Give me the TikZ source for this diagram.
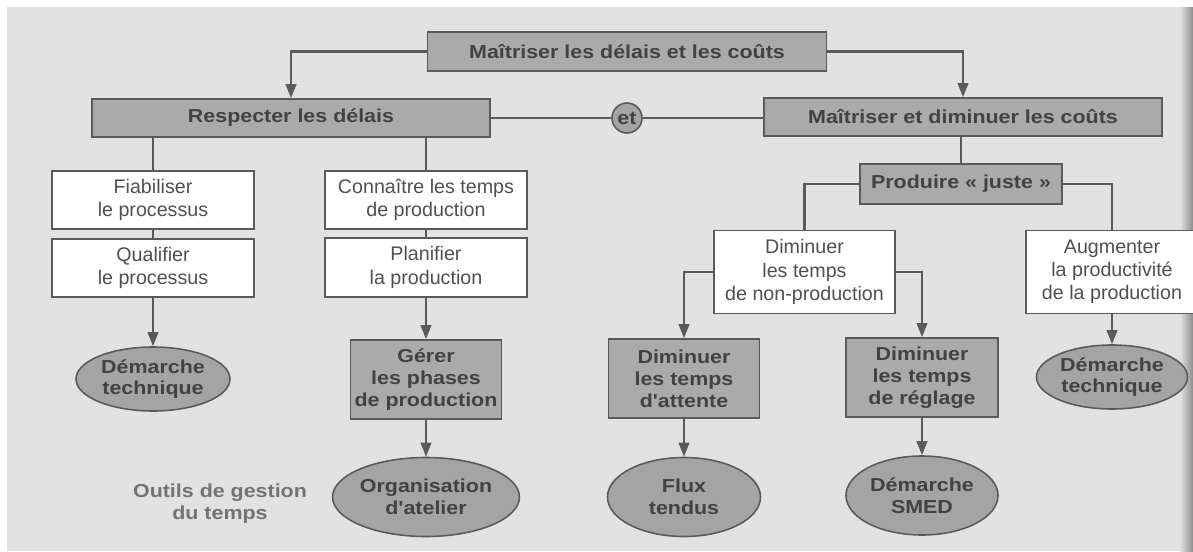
\documentclass[tikz,border=0pt]{standalone}
\usepackage{fontspec}
\setmainfont{Liberation Sans}
\newfontfamily\widefont{Liberation Sans}[FakeStretch=1.14]
\usetikzlibrary{arrows.meta,shapes.geometric}
\definecolor{bgc}{HTML}{E2E2E2}
\definecolor{boxg}{HTML}{AAAAAA}
\definecolor{linec}{HTML}{5A5A5A}
\definecolor{txtd}{HTML}{424242}
\definecolor{txtr}{HTML}{505050}
\definecolor{ellg}{HTML}{A4A4A4}
\begin{document}
\begin{tikzpicture}[x=0.02cm,y=-0.02cm,
  wh/.style 2 args={minimum width=#1*0.02cm, minimum height=#2*0.02cm},
  boldtxt/.style={font=\widefont\bfseries\fontsize{10.7pt}{12.4pt}\selectfont, text=txtd},
  greybox/.style={draw=linec, line width=0.9pt, fill=boxg, rectangle, inner sep=0pt, align=center, boldtxt},
  whitebox/.style={draw=linec, line width=0.9pt, fill=white, rectangle, inner sep=0pt, align=center, text=txtr, font=\fontsize{11.2pt}{13.2pt}\selectfont},
  oval/.style={draw=linec, line width=0.9pt, fill=ellg, ellipse, inner sep=0pt, align=center, boldtxt},
  link/.style={draw=linec, line width=1.3pt},
  arr/.style={link, -{Triangle[length=8pt,width=6pt]}},
]
\useasboundingbox (0,0) rectangle (1193,551);
\fill[white] (0,0) rectangle (1193,551);
\fill[bgc] (7,7) rectangle (1193,551);
\shade[left color=bgc, right color=black!45] (1180,7) rectangle (1193,551);

% nodes
\node[greybox, wh={399}{39}] (top) at (627,51.5) {Maîtriser les délais et les coûts};
\node[greybox, wh={398}{38}] (resp) at (291,118) {Respecter les délais};
\node[greybox, wh={398}{38}] (cost) at (963,117) {Maîtriser et diminuer les coûts};
\node[circle, draw=linec, line width=0.9pt, fill=ellg, inner sep=0pt, minimum size=30*0.02cm, boldtxt] (et) at (627,118) {et};

\node[whitebox, wh={202}{58}] (fiab) at (153,200) {Fiabiliser\\le processus};
\node[whitebox, wh={202}{58}] (qual) at (153,268) {Qualifier\\le processus};
\node[oval, wh={154}{64}] (demL) at (153,379) {Démarche\\technique};

\node[whitebox, wh={202}{58}] (conn) at (426,200) {Connaître les temps\\de production};
\node[whitebox, wh={202}{59}] (plan) at (426,267.5) {Planifier\\la production};
\node[greybox, wh={151}{79}] (gerer) at (426,379.5) {Gérer\\les phases\\de production};
\node[oval, wh={152}{79}] (orga) at (426,497) {Organisation\\d'atelier};

\node[greybox, wh={202}{40}] (prod) at (961,184) {Produire « juste »};
\node[whitebox, wh={181}{83}] (dimi) at (804.5,272) {Diminuer\\les temps\\de non-production};
\node[whitebox, wh={172}{83}] (aug) at (1112,272) {Augmenter\\la productivité\\de la production};

\node[greybox, wh={151}{79}] (att) at (684,378.5) {Diminuer\\les temps\\d'attente};
\node[greybox, wh={152}{79}] (reg) at (922,377.5) {Diminuer\\les temps\\de réglage};
\node[oval, wh={153}{79}] (flux) at (684,497) {Flux\\tendus};
\node[oval, wh={152}{79}] (smed) at (922,495.5) {Démarche\\SMED};
\node[oval, wh={151}{64}] (demR) at (1112,377) {Démarche\\technique};

\node[align=center, inner sep=0pt, boldtxt, text=black!55] (outils) at (220,504) {Outils de gestion\\du temps};

% connectors
\draw[arr] (top.west) -| (resp.north);
\draw[arr] (top.east) -| (cost.north);
\draw[link] (resp.east) -- (et.west);
\draw[link] (et.east) -- (cost.west |- et.east);
\draw[link] (fiab.north |- resp.south) -- (fiab.north);
\draw[link] (conn.north |- resp.south) -- (conn.north);
\draw[link] (fiab.south) -- (qual.north);
\draw[link] (conn.south) -- (plan.north);
\draw[arr] (qual.south) -- (demL.north);
\draw[arr] (plan.south) -- (gerer.north);
\draw[arr] (gerer.south) -- (orga.north);
\draw[link] (prod.north |- cost.south) -- (prod.north);
\draw[link] (prod.west) -| (dimi.north);
\draw[link] (prod.east) -| (aug.north);
\draw[arr] (dimi.west) -| (att.north);
\draw[arr] (dimi.east) -| (reg.north);
\draw[arr] (att.south) -- (flux.north);
\draw[arr] (reg.south) -- (smed.north);
\draw[arr] (aug.south) -- (demR.north);
\end{tikzpicture}
\end{document}
